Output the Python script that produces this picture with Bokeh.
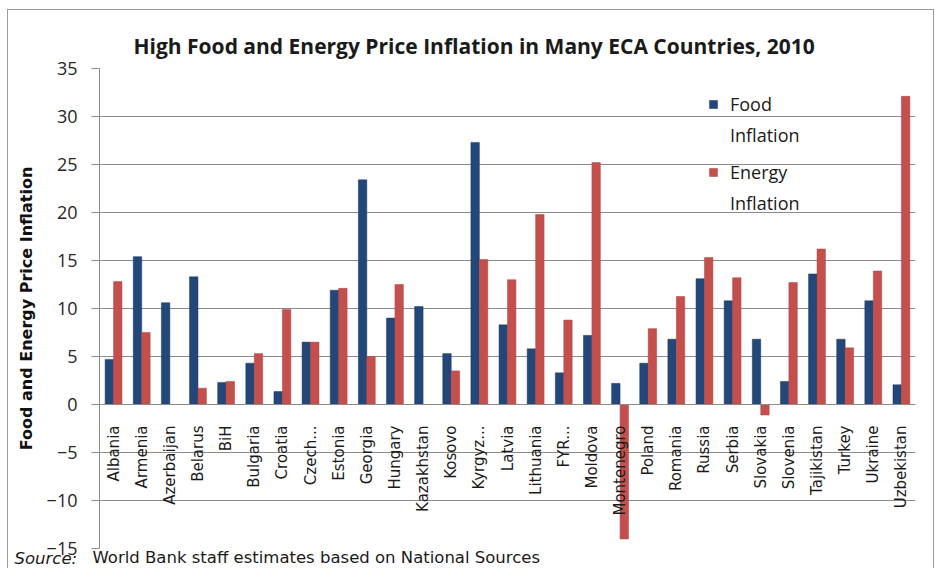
from bokeh.plotting import figure
from bokeh.models import ColumnDataSource, FactorRange, Range1d, FixedTicker, Legend, LegendItem, Label
from bokeh.transform import dodge
from bokeh.embed import file_html
from bokeh.resources import INLINE

countries = ["Albania", "Armenia", "Azerbaijan", "Belarus", "BiH", "Bulgaria", "Croatia", "Czech...",
             "Estonia", "Georgia", "Hungary", "Kazakhstan", "Kosovo", "Kyrgyz...", "Latvia", "Lithuania",
             "FYR...", "Moldova", "Montenegro", "Poland", "Romania", "Russia", "Serbia", "Slovakia",
             "Slovenia", "Tajikistan", "Turkey", "Ukraine", "Uzbekistan"]
food_inflation = [4.7, 15.4, 10.6, 13.3, 2.3, 4.3, 1.35, 6.5,
                  11.9, 23.4, 9.0, 10.2, 5.3, 27.3, 8.3, 5.8,
                  3.3, 7.2, 2.2, 4.3, 6.8, 13.1, 10.8, 6.8,
                  2.4, 13.6, 6.8, 10.8, 2.05]
energy_inflation = [12.8, 7.5, 0.0, 1.7, 2.4, 5.3, 9.9, 6.5,
                    12.1, 5.0, 12.5, 0.0, 3.5, 15.1, 13.0, 19.8,
                    8.8, 25.2, -14.0, 7.9, 11.25, 15.3, 13.2, -1.1,
                    12.7, 16.2, 5.9, 13.9, 32.1]
y_ticks = [-15, -10, -5, 0, 5, 10, 15, 20, 25, 30, 35]

src = ColumnDataSource(dict(country=countries, food=food_inflation, energy=energy_inflation))

p = figure(width=927, height=559, output_backend="svg", toolbar_location=None,
           x_range=FactorRange(*countries, range_padding=0), y_range=Range1d(-15, 35),
           min_border_left=91, min_border_right=20, min_border_top=58, min_border_bottom=21,
           styles={"border": "1px solid #9a9a9a", "border-bottom": "none",
                   "margin-left": "7px", "margin-top": "9px"})
p.title_location = None

# chart title (as a label in the top panel)
p.add_layout(Label(x=34, y=23, x_units="screen", y_units="screen",
                   text="High Food and Energy Price Inflation in Many ECA Countries, 2010",
                   text_font="Open Sans", text_font_size="21px", text_font_style="bold",
                   text_color="#1a1a1a", text_align="left", text_baseline="middle"), "above")

food_r = p.vbar(x=dodge("country", -0.15, range=p.x_range), top="food", bottom=0, width=0.3,
                source=src, fill_color="#24477a", line_color="#1b365e", line_width=0.5)
energy_r = p.vbar(x=dodge("country", 0.15, range=p.x_range), top="energy", bottom=0, width=0.3,
                  source=src, fill_color="#c4504e", line_color="#b04442", line_width=0.5)
blank_r = p.vbar(x=[], top=[], width=0.3, fill_alpha=0, line_alpha=0)

p.outline_line_color = None
p.xgrid.grid_line_color = None
p.ygrid.ticker = FixedTicker(ticks=y_ticks)
p.ygrid.grid_line_color = "#8c8c8c"
p.ygrid.grid_line_width = 1.2

ya = p.yaxis[0]
ya.ticker = FixedTicker(ticks=y_ticks)
ya.axis_line_color = "#8c8c8c"
ya.major_tick_line_color = "#8c8c8c"
ya.major_tick_out = 8
ya.major_tick_in = 0
ya.minor_tick_line_color = None
ya.major_label_standoff = 14
ya.major_label_text_font = "Open Sans"
ya.major_label_text_font_size = "18px"
ya.major_label_text_color = "#262626"
ya.axis_label = "Food and Energy Price Inflation"
ya.axis_label_text_font = "DejaVu Sans"
ya.axis_label_text_font_size = "16px"
ya.axis_label_text_font_style = "bold"
ya.axis_label_text_color = "#111111"
ya.axis_label_standoff = 8

xa = p.xaxis[0]
xa.fixed_location = 0
xa.axis_line_color = "#8c8c8c"
xa.major_tick_line_color = None
xa.minor_tick_line_color = None
xa.major_label_orientation = 1.5708
xa.major_label_standoff = 15
xa.major_label_text_font = "DejaVu Sans"
xa.major_label_text_font_size = "15px"
xa.major_label_text_color = "#1a1a1a"

legend_style = dict(background_fill_alpha=0, border_line_color=None,
                    label_text_font="Open Sans", label_text_font_size="18px", label_text_color="#1a1a1a",
                    glyph_width=10, glyph_height=10, spacing=7, padding=0, margin=0, label_standoff=12)
legend_food = Legend(items=[LegendItem(label="Food", renderers=[food_r]),
                            LegendItem(label="Inflation", renderers=[blank_r])],
                     location=(609, 401), **legend_style)
legend_energy = Legend(items=[LegendItem(label="Energy", renderers=[energy_r]),
                              LegendItem(label="Inflation", renderers=[blank_r])],
                       location=(609, 333), **legend_style)
p.add_layout(legend_food)
p.add_layout(legend_energy)

# source note
p.add_layout(Label(x=-85, y=-518, x_units="screen", y_units="screen", text="Source:",
                   text_font="DejaVu Sans", text_font_size="16.5px", text_font_style="italic",
                   text_color="#1a1a1a", text_baseline="alphabetic"), "above")
p.add_layout(Label(x=-7, y=10, x_units="screen", y_units="screen",
                   text="World Bank staff estimates based on National Sources",
                   text_font="DejaVu Sans", text_font_size="16.5px",
                   text_color="#1a1a1a", text_baseline="alphabetic"), "below")

open("out.html", "w").write(file_html(p, INLINE))
